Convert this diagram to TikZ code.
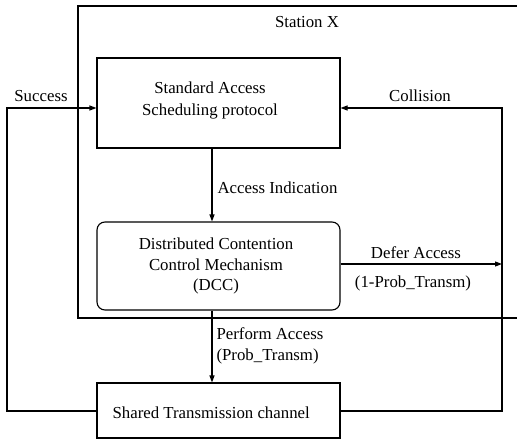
\documentclass[tikz,border=0pt]{standalone}
\usepackage{fontspec}
\setmainfont{Liberation Serif}
\usetikzlibrary{arrows.meta}
\begin{document}
\begin{tikzpicture}[x=1pt,y=-1pt,
  line width=1.1pt,
  every node/.style={font=\fontsize{16.8}{20.5}\selectfont},
  blockbox/.style={draw,rectangle,inner sep=0pt},
  roundbox/.style={draw,rectangle,rounded corners=8pt,inner sep=0pt},
  flow/.style={-{Triangle[length=7pt,width=5pt]}},
  lbl/.style={inner sep=1pt}]
\useasboundingbox (0,0) rectangle (517,441);
% station enclosure (open to the right)
\draw (517,6) -- (78,6) -- (78,318) -- (517,318);
\node[lbl] (station) at (307,22) {Station X};
% blocks
\node[blockbox,minimum width=243pt,minimum height=90pt] (sas) at (218.5,103) {};
\node[lbl,align=center] (sastext) at (210,100) {Standard Access\\[1.5pt]Scheduling protocol};
\node[roundbox,minimum width=243pt,minimum height=88pt] (dcc) at (218.5,266) {};
\node[lbl,align=center] (dcctext) at (216,266) {Distributed Contention\\Control Mechanism\\(DCC)};
\node[blockbox,minimum width=243pt,minimum height=55pt] (stc) at (218.5,410.5) {};
\node[lbl,anchor=west] (stctext) at (111,413) {Shared Transmission channel};
% corner points of the feedback loops
\coordinate (sl) at (7,108);
\coordinate (sb) at (7,411);
\coordinate (cr) at (502,108);
\coordinate (cb) at (502,411);
\coordinate (dfend) at (502,264);
% connectors
\draw[flow] (stc.west |- sb) -- (sb) -- (sl) -- (sas.west |- sl);
\draw[flow] (stc.east |- cb) -- (cb) -- (cr) -- (sas.east |- cr);
\draw[flow] (sas.south -| 212,0) -- (dcc.north -| 212,0);
\draw[flow] (dcc.east |- dfend) -- (dfend);
\draw[flow] (dcc.south -| 212,0) -- (stc.north -| 212,0);
% connector labels
\node[lbl] (succ) at (41,96) {Success};
\node[lbl] (coll) at (420,96) {Collision};
\node[lbl,anchor=west] (ai) at (216,188) {Access Indication};
\node[lbl] (da) at (416,253) {Defer Access};
\node[lbl] (pt) at (413,283) {(1-Prob\_Transm)};
\node[lbl,anchor=west,align=left] (pa) at (215,346) {Perform Access\\(Prob\_Transm)};
\end{tikzpicture}
\end{document}
